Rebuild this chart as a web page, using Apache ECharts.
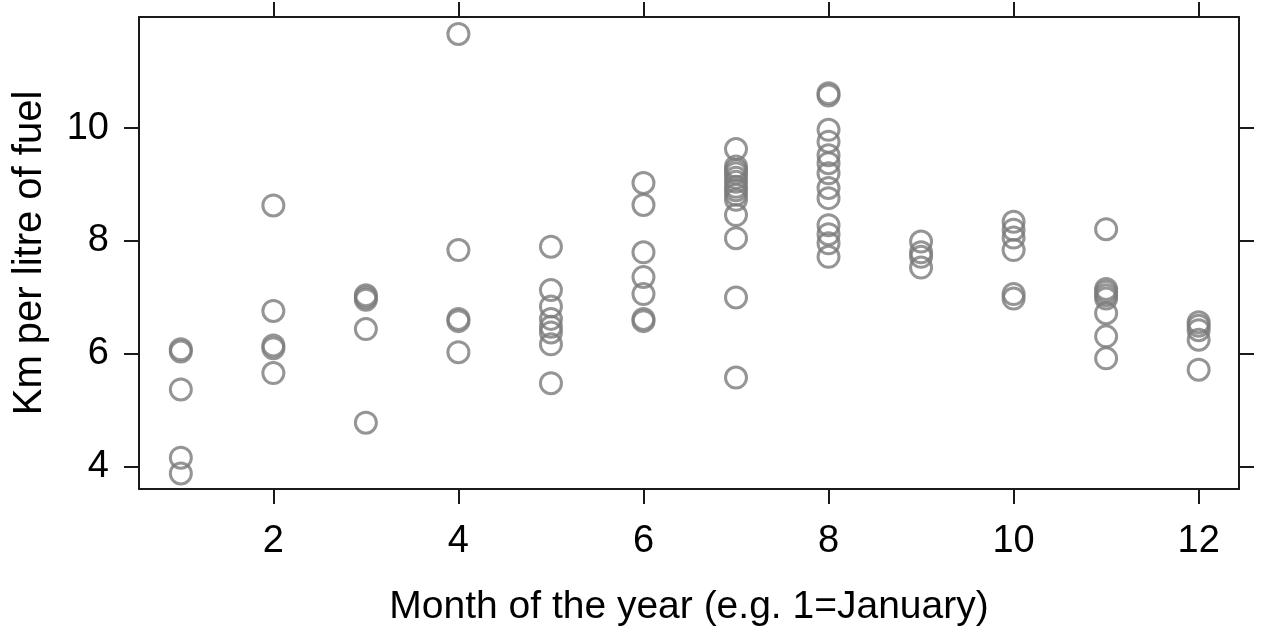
<!DOCTYPE html>
<html>
<head>
<meta charset="utf-8">
<script src="https://cdn.jsdelivr.net/npm/echarts@6/dist/echarts.min.js"></script>
<style>
  html, body { margin: 0; padding: 0; background: #fff; }
  #main { width: 1261px; height: 632px; }
</style>
</head>
<body>
<div id="main"></div>
<script>
// km per litre, one list per month
var jan = [6.08, 6.04, 5.37, 4.16, 3.88];
var feb = [8.63, 6.76, 6.15, 6.10, 5.66];
var mar = [7.04, 7.00, 6.96, 6.44, 4.78];
var apr = [11.67, 7.84, 6.62, 6.58, 6.03];
var may = [7.90, 7.13, 6.84, 6.62, 6.48, 6.38, 6.17, 5.48];
var jun = [9.03, 8.64, 7.80, 7.36, 7.06, 6.62, 6.58];
var jul = [9.63, 9.32, 9.26, 9.20, 9.12, 9.05, 8.96, 8.90, 8.82, 8.73, 8.46, 8.05, 7.00, 5.58];
var aug = [10.62, 10.58, 9.97, 9.76, 9.52, 9.38, 9.20, 8.94, 8.76, 8.28, 8.12, 7.96, 7.72];
var sep = [7.99, 7.80, 7.72, 7.53];
var oct = [8.34, 8.20, 8.06, 7.84, 7.06, 6.98];
var nov = [8.21, 7.15, 7.10, 7.04, 6.98, 6.72, 6.31, 5.92];
var dec = [6.56, 6.50, 6.42, 6.25, 5.72];

var months = [1, 2, 3, 4, 5, 6, 7, 8, 9, 10, 11, 12];
var byMonth = [jan, feb, mar, apr, may, jun, jul, aug, sep, oct, nov, dec];

var xTicks = [2, 4, 6, 8, 10, 12];
var yTicks = [4, 6, 8, 10];

var points = [];
months.forEach(function (m, i) {
    byMonth[i].forEach(function (v) { points.push([m, v]); });
});

var axisColor = '#1a1a1a';
var font = 'Liberation Sans, Arial, sans-serif';

function xAxisDef(pos, labels) {
    return {
        type: 'value',
        position: pos,
        min: 0.548,
        max: 12.436,
        name: labels ? 'Month of the year (e.g. 1=January)' : '',
        nameLocation: 'middle',
        nameGap: 99,
        nameTextStyle: { color: '#000', fontSize: 39, fontFamily: font },
        axisLine: { show: true, onZero: false, lineStyle: { color: axisColor, width: 2 } },
        axisTick: { show: true, inside: false, length: 15, customValues: xTicks, lineStyle: { color: axisColor, width: 2 } },
        axisLabel: { show: labels, customValues: xTicks, color: '#000', fontSize: 38, fontFamily: font, margin: 34 },
        splitLine: { show: false }
    };
}

function yAxisDef(pos, labels) {
    return {
        type: 'value',
        position: pos,
        min: 3.605,
        max: 11.97,
        name: labels ? 'Km per litre of fuel' : '',
        nameLocation: 'middle',
        nameGap: 89,
        nameTextStyle: { color: '#000', fontSize: 40, fontFamily: font },
        axisLine: { show: true, onZero: false, lineStyle: { color: axisColor, width: 2 } },
        axisTick: { show: true, inside: false, length: 15, customValues: yTicks, lineStyle: { color: axisColor, width: 2 } },
        axisLabel: { show: labels, customValues: yTicks, color: '#000', fontSize: 38, fontFamily: font, margin: 30 },
        splitLine: { show: false }
    };
}

var option = {
    animation: false,
    backgroundColor: '#fff',
    grid: { left: 139, right: 22, top: 17, bottom: 143, containLabel: false },
    xAxis: [xAxisDef('bottom', true), xAxisDef('top', false)],
    yAxis: [yAxisDef('left', true), yAxisDef('right', false)],
    series: [
        {
            type: 'scatter',
            xAxisIndex: 0,
            yAxisIndex: 0,
            symbol: 'circle',
            symbolSize: 21,
            itemStyle: { color: 'rgba(0,0,0,0)', borderColor: '#7a7a7a', borderWidth: 3 },
            data: points
        }
    ]
};

var myChart = echarts.init(document.getElementById('main'));
myChart.setOption(option);
</script>
</body>
</html>
